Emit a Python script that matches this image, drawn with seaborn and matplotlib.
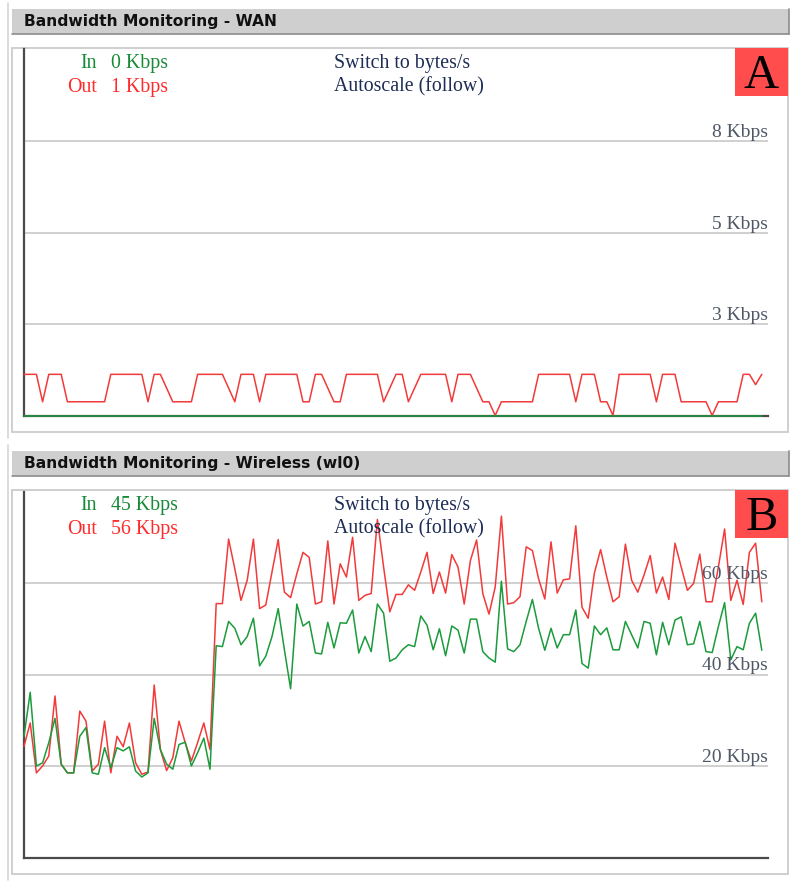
import numpy as np
import pandas as pd
import matplotlib
matplotlib.use("Agg")
import matplotlib.pyplot as plt
from matplotlib.patches import Rectangle
from matplotlib.lines import Line2D
import seaborn as sns

sns.set_style("white")
plt.rcParams['font.family'] = ['DejaVu Sans']

# ---- data: one sample per step, values in Kbps ----
wan_out = [1.2, 1.2, 1.2, 0.4, 1.2, 1.2, 1.2, 0.4, 0.4, 0.4,
           0.4, 0.4, 0.4, 0.4, 1.2, 1.2, 1.2, 1.2, 1.2, 1.2,
           0.4, 1.2, 1.2, 0.8, 0.4, 0.4, 0.4, 0.4, 1.2, 1.2,
           1.2, 1.2, 1.2, 0.8, 0.4, 1.2, 1.2, 1.2, 0.4, 1.2,
           1.2, 1.2, 1.2, 1.2, 1.2, 0.4, 0.4, 1.2, 1.2, 0.8,
           0.4, 0.4, 1.2, 1.2, 1.2, 1.2, 1.2, 1.2, 0.4, 0.8,
           1.2, 1.2, 0.4, 0.8, 1.2, 1.2, 1.2, 1.2, 1.2, 0.4,
           1.2, 1.2, 1.2, 0.8, 0.4, 0.4, 0.0, 0.4, 0.4, 0.4,
           0.4, 0.4, 0.4, 1.2, 1.2, 1.2, 1.2, 1.2, 1.2, 0.4,
           1.2, 1.2, 1.2, 0.4, 0.4, 0.0, 1.2, 1.2, 1.2, 1.2,
           1.2, 1.2, 0.4, 1.2, 1.2, 1.2, 0.4, 0.4, 0.4, 0.4,
           0.4, 0.0, 0.4, 0.4, 0.4, 0.4, 1.2, 1.2, 0.9, 1.2]
wan_in = [0, 0, 0, 0, 0, 0, 0, 0, 0, 0,
          0, 0, 0, 0, 0, 0, 0, 0, 0, 0,
          0, 0, 0, 0, 0, 0, 0, 0, 0, 0,
          0, 0, 0, 0, 0, 0, 0, 0, 0, 0,
          0, 0, 0, 0, 0, 0, 0, 0, 0, 0,
          0, 0, 0, 0, 0, 0, 0, 0, 0, 0,
          0, 0, 0, 0, 0, 0, 0, 0, 0, 0,
          0, 0, 0, 0, 0, 0, 0, 0, 0, 0,
          0, 0, 0, 0, 0, 0, 0, 0, 0, 0,
          0, 0, 0, 0, 0, 0, 0, 0, 0, 0,
          0, 0, 0, 0, 0, 0, 0, 0, 0, 0,
          0, 0, 0, 0, 0, 0, 0, 0, 0, 0]

wl_out = [24.3, 29.4, 18.5, 20.0, 22.2, 35.3, 20.4, 18.5, 18.5, 32.0,
          29.8, 18.9, 20.4, 29.8, 18.5, 26.5, 24.2, 29.4, 20.7, 18.2,
          18.7, 37.7, 23.6, 19.0, 21.8, 29.8, 25.1, 21.1, 25.1, 29.4,
          23.6, 55.5, 55.5, 69.6, 63.1, 56.2, 60.6, 69.6, 54.4, 55.2,
          62.4, 69.5, 58.0, 56.8, 62.0, 66.7, 65.6, 55.4, 55.9, 69.2,
          55.4, 64.2, 61.3, 70.0, 56.2, 57.3, 57.7, 73.9, 63.5, 53.7,
          57.5, 57.5, 59.6, 58.4, 62.4, 66.7, 57.7, 62.4, 57.8, 66.2,
          63.5, 55.4, 64.9, 69.4, 57.7, 53.2, 59.1, 74.6, 55.4, 55.7,
          57.0, 67.9, 67.1, 60.9, 56.5, 69.0, 57.8, 60.7, 60.9, 72.5,
          54.7, 52.3, 62.2, 67.3, 61.3, 55.9, 57.0, 68.5, 60.6, 58.0,
          61.7, 66.0, 57.8, 61.3, 56.4, 68.7, 63.5, 58.4, 59.9, 66.3,
          55.9, 55.9, 63.5, 71.8, 56.2, 60.6, 55.3, 66.7, 68.7, 55.9]
wl_in = [26.5, 36.1, 20.0, 20.7, 25.1, 30.4, 20.4, 18.5, 18.5, 26.5,
         28.4, 18.5, 18.2, 24.0, 19.6, 24.0, 23.3, 24.2, 18.9, 17.6,
         18.5, 30.4, 23.6, 20.4, 19.3, 24.7, 25.2, 20.0, 22.9, 26.1,
         19.3, 46.3, 46.1, 51.6, 50.1, 46.5, 48.3, 52.3, 41.9, 44.0,
         48.3, 54.4, 45.4, 36.9, 55.4, 50.6, 51.6, 44.7, 44.5, 51.4,
         45.8, 51.3, 51.2, 54.1, 44.7, 48.3, 45.0, 55.4, 53.4, 42.9,
         43.6, 45.4, 46.5, 46.1, 52.8, 50.8, 45.4, 50.0, 44.1, 50.6,
         49.7, 44.7, 52.1, 52.1, 45.0, 43.6, 42.7, 60.4, 45.6, 45.0,
         46.5, 51.6, 56.4, 50.1, 45.3, 50.1, 45.8, 48.7, 48.7, 54.1,
         42.4, 41.4, 50.6, 48.7, 50.2, 45.4, 45.4, 51.6, 48.7, 45.8,
         51.6, 51.2, 44.3, 51.4, 46.5, 51.9, 52.6, 46.5, 46.7, 51.6,
         45.0, 44.8, 50.5, 55.7, 43.2, 46.1, 45.4, 51.2, 53.4, 45.3]

wan_ymax = 10.67
wan_grid = [2.67, 5.33, 8.0]
wl_ymax = 80
wl_grid = [20, 40, 60]
n_slots = 120

RED = '#f23a3a'
GREEN = '#1b9b3b'
SERIF = 'Liberation Serif'

W, H = 798, 884
fig = plt.figure(figsize=(W / 100, H / 100), dpi=100)


def fx(x):
    return x / W


def fy(y):
    return 1 - y / H


def panel(y0, title, tag, s_in, s_out, ymax, grid):
    # page frame line on the left
    fig.add_artist(Line2D([fx(7.5), fx(7.5)], [fy(y0 - 6), fy(y0 + 429)],
                          color='#d6d6d6', lw=1.2, zorder=-2))
    # header bar
    fig.add_artist(Rectangle((fx(12), fy(y0 + 25)), fx(789) - fx(12), fy(y0) - fy(y0 + 25),
                             facecolor='#cfcfcf', edgecolor='none', zorder=-1))
    fig.add_artist(Line2D([fx(12), fx(789)], [fy(y0 + 25), fy(y0 + 25)], color='#8c8c8c', lw=1.2))
    fig.add_artist(Line2D([fx(789), fx(789)], [fy(y0), fy(y0 + 25)], color='#8c8c8c', lw=1.2))
    fig.text(fx(24), fy(y0 + 12.5), title, ha='left', va='center',
             fontsize=11.2, fontweight='bold', color='#111111')
    # panel box
    fig.add_artist(Rectangle((fx(12), fy(y0 + 423)), fx(788) - fx(12), fy(y0 + 39) - fy(y0 + 423),
                             facecolor='white', edgecolor='#cccccc', lw=1.3, zorder=-1))

    ax = fig.add_axes([fx(24), fy(y0 + 406.5), fx(768) - fx(24), 366 / H])
    ax.set_facecolor('none')
    df = pd.DataFrame({'t': np.arange(len(s_out)), 'Out': s_out, 'In': s_in})
    sns.lineplot(data=df, x='t', y='Out', ax=ax, color=RED, lw=1.1)
    sns.lineplot(data=df, x='t', y='In', ax=ax, color=GREEN, lw=1.1)
    for ln in ax.lines:
        ln.set_clip_on(False)
        ln.set_zorder(3)
    ax.set_xlim(0, n_slots)
    ax.set_ylim(0, ymax)
    ax.set_xticks([])
    ax.set_yticks(grid)
    ax.tick_params(left=False, labelleft=False, bottom=False)
    ax.grid(axis='y', color='#c4c4c4', lw=1.1)
    ax.set_axisbelow(True)
    ax.set_xlabel('')
    ax.set_ylabel('')
    for s in ['top', 'right']:
        ax.spines[s].set_visible(False)
    for s in ['left', 'bottom']:
        ax.spines[s].set_color('#4a4a4a')
        ax.spines[s].set_linewidth(1.6)
    for g in grid:
        ax.text(n_slots, g, f"{round(g)} Kbps", ha='right', va='bottom',
                fontsize=14, family=SERIF, color='#4f5766')

    # current rate readout
    fig.text(fx(97), fy(y0 + 58.7), "In", ha='right', va='baseline',
             fontsize=14.3, family=SERIF, color='#178a38')
    fig.text(fx(111), fy(y0 + 58.7), f"{s_in[-1]:.0f} Kbps", ha='left', va='baseline',
             fontsize=14.3, family=SERIF, color='#178a38')
    fig.text(fx(97), fy(y0 + 82.7), "Out", ha='right', va='baseline',
             fontsize=14.3, family=SERIF, color='#ff2b2b')
    fig.text(fx(111), fy(y0 + 82.7), f"{s_out[-1]:.0f} Kbps", ha='left', va='baseline',
             fontsize=14.3, family=SERIF, color='#ff2b2b')
    fig.text(fx(334), fy(y0 + 58.7), "Switch to bytes/s", ha='left', va='baseline',
             fontsize=14.3, family=SERIF, color='#1d2c55')
    fig.text(fx(334), fy(y0 + 82.7), "Autoscale (follow)", ha='left', va='baseline',
             fontsize=14.3, family=SERIF, color='#1d2c55')

    # panel tag
    fig.add_artist(Rectangle((fx(735), fy(y0 + 87)), fx(788) - fx(735), fy(y0 + 39) - fy(y0 + 87),
                             facecolor='#ff4d4d', edgecolor='none', zorder=5))
    t = fig.text(fx(761.5), fy(y0 + 78.5), tag, ha='center', va='baseline',
                 fontsize=35, family=SERIF, color='black')
    t.set_zorder(6)
    return ax


panel(9, "Bandwidth Monitoring - WAN", "A", wan_in, wan_out, wan_ymax, wan_grid)
panel(451, "Bandwidth Monitoring - Wireless (wl0)", "B", wl_in, wl_out, wl_ymax, wl_grid)

fig.savefig("out.png", dpi=100, facecolor='white')
